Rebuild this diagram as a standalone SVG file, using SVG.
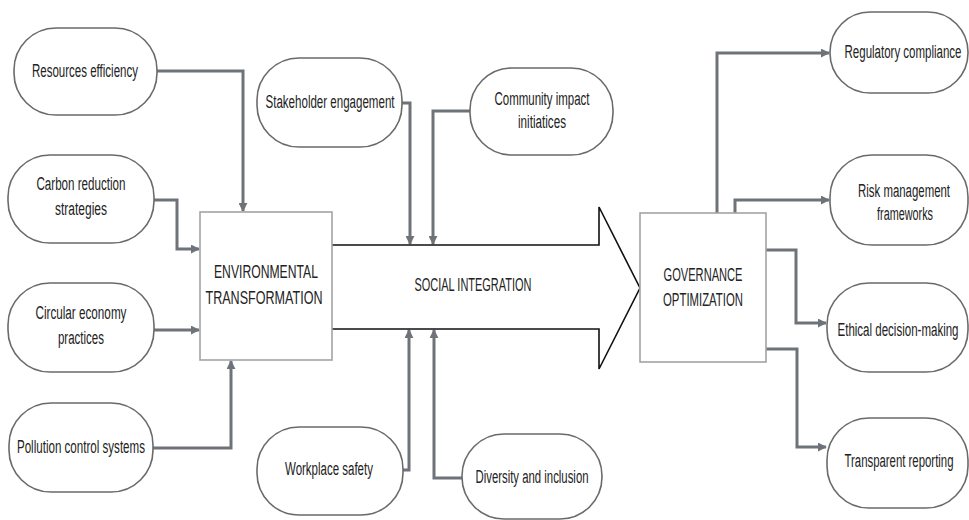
<svg xmlns="http://www.w3.org/2000/svg" width="969" height="520" viewBox="0 0 969 520">
<defs>
<marker id="ah" viewBox="0 0 10 10" refX="9" refY="5" markerWidth="9" markerHeight="9" markerUnits="userSpaceOnUse" orient="auto">
<path d="M0,0 L10,5 L0,10 Z" fill="#6e737a"/>
</marker>
</defs>
<style>
.pill{fill:#fff;stroke:#6a6a6a;stroke-width:1.6}
.box{fill:#fff;stroke:#a3a3a3;stroke-width:1.6}
.t{font-family:"Liberation Sans",Arial,sans-serif;font-size:19px;fill:#222;text-anchor:middle}
.c{fill:none;stroke:#6e737a;stroke-width:3;marker-end:url(#ah)}
.big{fill:#fff;stroke:#111;stroke-width:1.6}
</style>
<rect width="969" height="520" fill="#fff"/>

<g id="connectors">
<path class="c" d="M157,71 H243 V211"/>
<path class="c" d="M154,200 H177 V249 H199"/>
<path class="c" d="M154,330 H199"/>
<path class="c" d="M153,448 H231 V361"/>
<path class="c" d="M402,103 H410 V244"/>
<path class="c" d="M470,111 H433 V244"/>
<path class="c" d="M403,470 H409 V330"/>
<path class="c" d="M462,478 H434 V330"/>
<path class="c" d="M717,213 V53 H829"/>
<path class="c" d="M735,213 V200 H829"/>
<path class="c" d="M766,250 H796 V323 H826"/>
<path class="c" d="M766,349 H797 V447 H826"/>
</g>

<g id="social-integration">
<path class="big" d="M332,245 H599 V207 L640,288 L599,369 V329 H332"/>
<text class="t" transform="scale(0.62,1)" x="762.9" y="291" textLength="188.7" lengthAdjust="spacingAndGlyphs">SOCIAL INTEGRATION</text>
</g>

<g id="environmental-transformation">
<rect class="box" x="200" y="212" width="132" height="148"/>
<text class="t" transform="scale(0.62,1)" x="429" y="278" textLength="167.7" lengthAdjust="spacingAndGlyphs">ENVIRONMENTAL</text>
<text class="t" transform="scale(0.62,1)" x="425.8" y="304" textLength="188.7" lengthAdjust="spacingAndGlyphs">TRANSFORMATION</text>
</g>

<g id="governance-optimization">
<rect class="box" x="640" y="213" width="126" height="149"/>
<text class="t" transform="scale(0.62,1)" x="1133.9" y="281" textLength="127.4" lengthAdjust="spacingAndGlyphs">GOVERNANCE</text>
<text class="t" transform="scale(0.62,1)" x="1133.9" y="306" textLength="129" lengthAdjust="spacingAndGlyphs">OPTIMIZATION</text>
</g>

<g id="resources-efficiency">
<rect class="pill" x="14" y="28" width="143" height="87" rx="42" ry="42"/>
<text class="t" transform="scale(0.62,1)" x="137.1" y="77" textLength="171" lengthAdjust="spacingAndGlyphs">Resources efficiency</text>
</g>

<g id="carbon-reduction">
<rect class="pill" x="8" y="155" width="146" height="88" rx="42" ry="42"/>
<text class="t" transform="scale(0.62,1)" x="130.6" y="190" textLength="143.5" lengthAdjust="spacingAndGlyphs">Carbon reduction</text>
<text class="t" transform="scale(0.62,1)" x="130.6" y="215" textLength="83.9" lengthAdjust="spacingAndGlyphs">strategies</text>
</g>

<g id="circular-economy">
<rect class="pill" x="8" y="283" width="146" height="89" rx="42" ry="42"/>
<text class="t" transform="scale(0.62,1)" x="130.6" y="319" textLength="146.8" lengthAdjust="spacingAndGlyphs">Circular economy</text>
<text class="t" transform="scale(0.62,1)" x="130.6" y="344" textLength="74.2" lengthAdjust="spacingAndGlyphs">practices</text>
</g>

<g id="pollution-control">
<rect class="pill" x="9" y="403" width="144" height="89" rx="42" ry="42"/>
<text class="t" transform="scale(0.62,1)" x="130.6" y="453" textLength="206.5" lengthAdjust="spacingAndGlyphs">Pollution control systems</text>
</g>

<g id="stakeholder-engagement">
<rect class="pill" x="257" y="58" width="145" height="89" rx="42" ry="42"/>
<text class="t" transform="scale(0.62,1)" x="532.3" y="108" textLength="208.1" lengthAdjust="spacingAndGlyphs">Stakeholder engagement</text>
</g>

<g id="community-impact">
<rect class="pill" x="470" y="68" width="143" height="87" rx="42" ry="42"/>
<text class="t" transform="scale(0.62,1)" x="874.2" y="105" textLength="153.2" lengthAdjust="spacingAndGlyphs">Community impact</text>
<text class="t" transform="scale(0.62,1)" x="874.2" y="128" textLength="77.4" lengthAdjust="spacingAndGlyphs">initiatices</text>
</g>

<g id="workplace-safety">
<rect class="pill" x="257" y="427" width="146" height="88" rx="42" ry="42"/>
<text class="t" transform="scale(0.62,1)" x="530.6" y="475" textLength="141.9" lengthAdjust="spacingAndGlyphs">Workplace safety</text>
</g>

<g id="diversity-inclusion">
<rect class="pill" x="462" y="434" width="140" height="85" rx="42" ry="42"/>
<text class="t" transform="scale(0.62,1)" x="858.1" y="483" textLength="182.3" lengthAdjust="spacingAndGlyphs">Diversity and inclusion</text>
</g>

<g id="regulatory-compliance">
<rect class="pill" x="830" y="12" width="138" height="81" rx="40" ry="40"/>
<text class="t" transform="scale(0.62,1)" x="1456.5" y="58" textLength="188.7" lengthAdjust="spacingAndGlyphs">Regulatory compliance</text>
</g>

<g id="risk-management">
<rect class="pill" x="830" y="155" width="138" height="90" rx="42" ry="42"/>
<text class="t" transform="scale(0.62,1)" x="1458.1" y="197" textLength="148.4" lengthAdjust="spacingAndGlyphs">Risk management</text>
<text class="t" transform="scale(0.62,1)" x="1459.7" y="220" textLength="90.3" lengthAdjust="spacingAndGlyphs">frameworks</text>
</g>

<g id="ethical-decision">
<rect class="pill" x="827" y="283" width="141" height="89" rx="42" ry="42"/>
<text class="t" transform="scale(0.62,1)" x="1448.4" y="336" textLength="195.2" lengthAdjust="spacingAndGlyphs">Ethical decision-making</text>
</g>

<g id="transparent-reporting">
<rect class="pill" x="827" y="418" width="141" height="90" rx="42" ry="42"/>
<text class="t" transform="scale(0.62,1)" x="1450" y="467" textLength="175.8" lengthAdjust="spacingAndGlyphs">Transparent reporting</text>
</g>
</svg>
